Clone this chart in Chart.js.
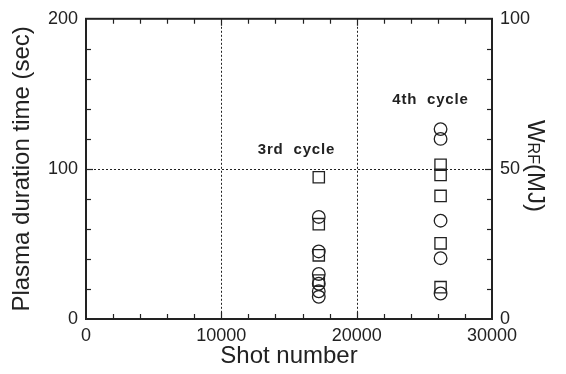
<!DOCTYPE html>
<html>
<head>
<meta charset="utf-8">
<script src="https://cdn.jsdelivr.net/npm/chart.js@4.4.1/dist/chart.umd.min.js"></script>
<style>
  html, body { margin: 0; padding: 0; background: #fff; }
  #wrap { width: 566px; height: 374px; }
</style>
</head>
<body>
<div id="wrap"><canvas id="c" width="566" height="374"></canvas></div>
<script>
// ---- data ----
const durationShots = [17200, 17200, 17200, 17200, 17200, 17200, 26200, 26200, 26200, 26200, 26200];
const durationSec   = [68, 45, 30, 23.5, 18.5, 14.8, 126.5, 120, 65.5, 40.5, 17];
const wrfShots = [17200, 17200, 17200, 17200, 26200, 26200, 26200, 26200, 26200];
const wrfMJ    = [47.2, 31.6, 21.2, 12.8, 51.4, 48, 41, 25.2, 10.6];
const xTicks  = [0, 10000, 20000, 30000];
const yTicks  = [0, 100, 200];
const y2Ticks = [0, 50, 100];
const notes = [
  { text: '3rd  cycle', x: 15550, y: 113 },
  { text: '4th  cycle', x: 25450, y: 146 }
];

const INK = '#222';
const FONT = "'Liberation Sans', Arial, Helvetica, sans-serif";

const decor = {
  id: 'decor',
  beforeDatasetsDraw(chart) {
    const { ctx, chartArea: a, scales } = chart;
    const xs = scales.x, ys = scales.y, y2 = scales.y2;
    ctx.save();
    ctx.strokeStyle = INK;
    ctx.lineWidth = 1;
    ctx.setLineDash([2, 2]);
    [10000, 20000].forEach(v => {
      const px = Math.round(xs.getPixelForValue(v)) + 0.5;
      ctx.beginPath(); ctx.moveTo(px, a.top); ctx.lineTo(px, a.bottom); ctx.stroke();
    });
    const py = Math.round(ys.getPixelForValue(100)) + 0.5;
    ctx.beginPath(); ctx.moveTo(a.left, py); ctx.lineTo(a.right, py); ctx.stroke();
    ctx.setLineDash([]);
    ctx.lineWidth = 1.2;
    for (let v = 2000; v < 30000; v += 2000) {
      const px = Math.round(xs.getPixelForValue(v)) + 0.5;
      const len = (v % 10000 === 0) ? 7 : 5;
      ctx.beginPath();
      ctx.moveTo(px, a.bottom); ctx.lineTo(px, a.bottom - len);
      ctx.moveTo(px, a.top); ctx.lineTo(px, a.top + len);
      ctx.stroke();
    }
    for (let v = 20; v < 200; v += 20) {
      const p = Math.round(ys.getPixelForValue(v)) + 0.5;
      const len = (v === 100) ? 7 : 5;
      ctx.beginPath(); ctx.moveTo(a.left, p); ctx.lineTo(a.left + len, p); ctx.stroke();
    }
    for (let v = 10; v < 100; v += 10) {
      const p = Math.round(y2.getPixelForValue(v)) + 0.5;
      const len = (v === 50) ? 7 : 5;
      ctx.beginPath(); ctx.moveTo(a.right, p); ctx.lineTo(a.right - len, p); ctx.stroke();
    }
    ctx.lineWidth = 2;
    ctx.strokeRect(a.left, a.top, a.right - a.left, a.bottom - a.top);
    ctx.fillStyle = INK;
    ctx.font = "bold 15px " + FONT;
    ctx.textAlign = 'center';
    ctx.textBaseline = 'middle';
    try { ctx.letterSpacing = '0.8px'; } catch (e) {}
    notes.forEach(n => {
      ctx.fillText(n.text, xs.getPixelForValue(n.x), ys.getPixelForValue(n.y));
    });
    try { ctx.letterSpacing = '0px'; } catch (e) {}
    ctx.restore();
  },
  afterDraw(chart) {
    const { ctx, chartArea: a } = chart;
    ctx.save();
    ctx.fillStyle = INK;
    ctx.textBaseline = 'middle';
    ctx.textAlign = 'left';
    const big = "24px " + FONT, small = "16px " + FONT;
    ctx.font = big; const wW = ctx.measureText('W').width; const wM = ctx.measureText('(MJ)').width;
    ctx.font = small; const wRF = ctx.measureText('RF').width;
    const total = wW + wRF + wM;
    ctx.translate(535, (a.top + a.bottom) / 2 - 3);
    ctx.rotate(Math.PI / 2);
    let x = -total / 2;
    ctx.font = big; ctx.fillText('W', x, 0); x += wW;
    ctx.font = small; ctx.fillText('RF', x, 3); x += wRF;
    ctx.font = big; ctx.fillText('(MJ)', x, 0);
    ctx.restore();
  }
};

const tickFont = { family: FONT, size: 18 };

new Chart(document.getElementById('c'), {
  type: 'scatter',
  data: {
    datasets: [
      {
        label: 'Plasma duration time',
        data: durationShots.map((s, i) => ({ x: s, y: durationSec[i] })),
        yAxisID: 'y',
        pointStyle: 'circle',
        pointRadius: 6.3,
        pointHoverRadius: 6.3,
        borderColor: INK,
        backgroundColor: 'rgba(0,0,0,0)',
        borderWidth: 1.3
      },
      {
        label: 'W_RF',
        data: wrfShots.map((s, i) => ({ x: s, y: wrfMJ[i] })),
        yAxisID: 'y2',
        pointStyle: 'rect',
        pointRadius: 8,
        pointHoverRadius: 8,
        borderColor: INK,
        backgroundColor: 'rgba(0,0,0,0)',
        borderWidth: 1.3
      }
    ]
  },
  options: {
    responsive: false,
    animation: false,
    devicePixelRatio: 1,
    layout: { padding: { top: 17, left: 0, right: 0, bottom: 0 } },
    plugins: { legend: { display: false }, tooltip: { enabled: false } },
    scales: {
      x: {
        type: 'linear', min: 0, max: 30000,
        afterBuildTicks: s => { s.ticks = xTicks.map(v => ({ value: v })); },
        ticks: { font: tickFont, color: INK, padding: 6, maxRotation: 0, callback: v => String(v) },
        grid: { display: false, drawTicks: false }, border: { display: false },
        title: { display: true, text: 'Shot number', font: { family: FONT, size: 24 }, color: INK, padding: { top: 0, bottom: 3 } },
        afterFit: s => { s.height = 55; }
      },
      y: {
        type: 'linear', position: 'left', min: 0, max: 200,
        afterBuildTicks: s => { s.ticks = yTicks.map(v => ({ value: v })); },
        ticks: { font: tickFont, color: INK, padding: 8 },
        grid: { display: false, drawTicks: false }, border: { display: false },
        title: { display: true, text: 'Plasma duration time (sec)', font: { family: FONT, size: 24 }, color: INK, padding: { top: 8, bottom: 0 } },
        afterFit: s => { s.width = 86; }
      },
      y2: {
        type: 'linear', position: 'right', min: 0, max: 100,
        afterBuildTicks: s => { s.ticks = y2Ticks.map(v => ({ value: v })); },
        ticks: { font: tickFont, color: INK, padding: 8 },
        grid: { display: false, drawTicks: false }, border: { display: false },
        afterFit: s => { s.width = 74; }
      }
    }
  },
  plugins: [decor]
});
</script>
</body>
</html>
